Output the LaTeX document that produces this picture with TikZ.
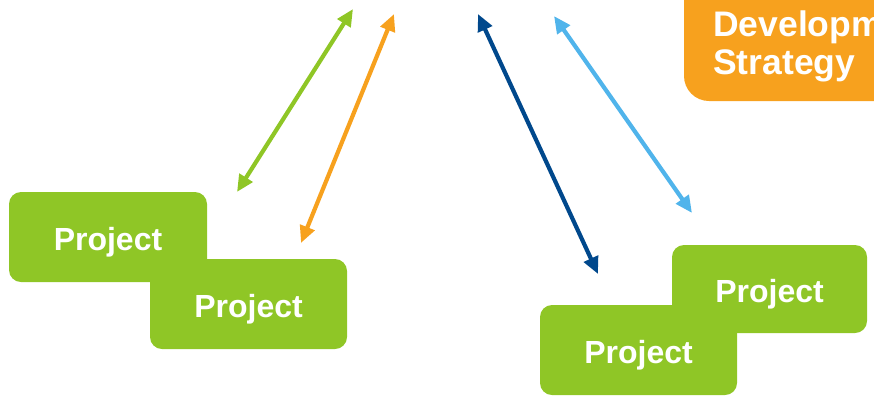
\documentclass[tikz,border=0pt]{standalone}
\usepackage{fontspec}
\setmainfont{Liberation Sans}
\usetikzlibrary{arrows.meta}
\definecolor{projgreen}{RGB}{143,198,38}
\definecolor{stratorange}{RGB}{247,161,30}
\definecolor{navyblue}{RGB}{0,72,140}
\definecolor{skyblue}{RGB}{80,180,235}
\tikzset{
  projbox/.style={fill=projgreen, rounded corners=12pt, minimum width=#1, minimum height=90pt, inner sep=0pt, text height=26pt, text depth=0pt, text=white, font=\fontsize{32}{36}\selectfont\bfseries},
  link/.style={line width=4.2pt, {Triangle[length=17pt,width=15pt]}-{Triangle[length=17pt,width=15pt]}, draw=#1},
}
\begin{document}
\begin{tikzpicture}[x=1pt,y=-1pt]
\useasboundingbox (0,0) rectangle (874,397);
\clip (0,0) rectangle (874,397);
% strategy box (clipped at the top-right, as in the reference)
\fill[stratorange, rounded corners=25pt] (684,-40) rectangle (960,101);
\node[anchor=north west, inner sep=0pt, text=white, align=left, font=\fontsize{35.5}{38}\selectfont\bfseries] (strategy) at (713,11) {Development\\Strategy};
% project boxes
\node[projbox=198pt] (p1) at (108,237) {Project};
\node[projbox=197pt] (p2) at (248.5,304) {Project};
\node[projbox=195pt, minimum height=88pt] (p3) at (769.5,289) {Project};
\node[projbox=197pt] (p4) at (638.5,350) {Project};
% arrow end points
\coordinate (g1) at (237,192);
\coordinate (g2) at (353,9);
\coordinate (o1) at (301,243);
\coordinate (o2) at (394,14);
\coordinate (n1) at (478,14);
\coordinate (n2) at (598,274);
\coordinate (b1) at (554,16);
\coordinate (b2) at (692,213);
\draw[link=projgreen] (g1) -- (g2);
\draw[link=stratorange] (o1) -- (o2);
\draw[link=navyblue] (n1) -- (n2);
\draw[link=skyblue] (b1) -- (b2);
\end{tikzpicture}
\end{document}
